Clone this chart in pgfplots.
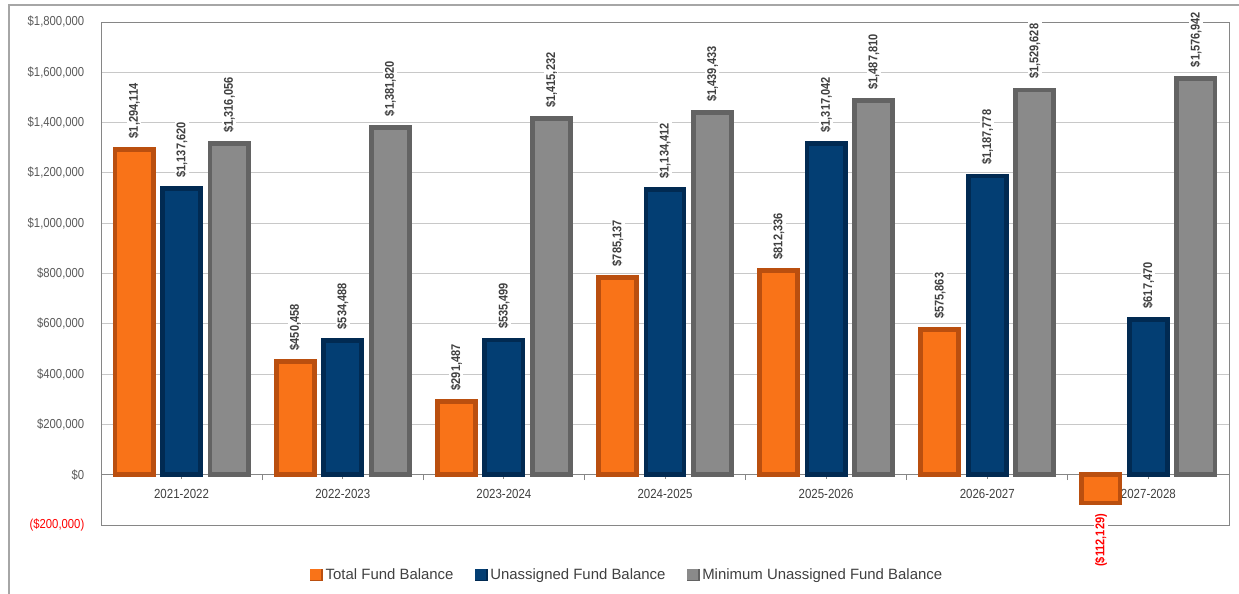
\documentclass[border=0pt]{standalone}
\usepackage{fontspec}
\setmainfont{Liberation Sans}
\newfontfamily\narrowfont[FakeStretch=0.87]{Liberation Sans}
\usepackage{pgfplots}
\usepackage{pgfplotstable}
\pgfplotsset{compat=1.18}

% bar colours: front face and bevel edge
\definecolor{orF}{HTML}{F97318}
\definecolor{orR}{HTML}{BA4F0F}
\definecolor{nvF}{HTML}{033E73}
\definecolor{nvR}{HTML}{012A52}
\definecolor{gyF}{HTML}{8A8A8A}
\definecolor{gyR}{HTML}{636363}
\definecolor{negred}{HTML}{FF0000}
\definecolor{tickcol}{HTML}{595959}
\definecolor{labcol}{HTML}{404040}
\definecolor{gridgrey}{HTML}{C8C8C8}
\definecolor{framegrey}{HTML}{868686}
\definecolor{outergrey}{HTML}{A6A6A6}

\setlength{\fboxsep}{1pt}

% currency format: $1,234,567 and ($1,234,567) in red for negatives
\newcommand\money[1]{{%
  \pgfkeys{/pgf/fpu=true,/pgf/fpu/output format=float}%
  \pgfmathparse{abs(#1)}\let\moneyabs\pgfmathresult
  \pgfmathparse{#1}%
  \pgfmathfloatifflags{\pgfmathresult}{-}%
    {\textcolor{negred}{(\$\pgfmathprintnumber[fixed,precision=0,1000 sep={,},assume math mode=true]{\moneyabs})}}%
    {\$\pgfmathprintnumber[fixed,precision=0,1000 sep={,},assume math mode=true]{\moneyabs}}%
}}

\pgfplotsset{
  bevel/.style 2 args={
    fill=#1, draw=#2, line width=3.6pt, line join=miter,
    legend image code/.code={
      \fill[#2] (0pt,-3pt) rectangle (6pt,3pt);
      \fill[#1] (0pt,-1.6pt) rectangle (4.6pt,3pt);
    },
  },
}

\pgfplotstableread{
x total unassigned minimum
0 1294114 1137620 1316056
1 450458 534488 1381820
2 291487 535499 1415232
3 785137 1134412 1439433
4 812336 1317042 1487810
5 575863 1187778 1529628
6 -112129 617470 1576942
}\balances

\begin{document}
\begin{tikzpicture}
\useasboundingbox (0,0) rectangle (929.25pt,-444.75pt);
\draw[outergrey, line width=1.1pt] (6.75pt,-470pt) -- (6.75pt,-3.75pt) -- (950pt,-3.75pt);
\begin{axis}[
  at={(75.75pt,-393.75pt)}, anchor=south west,
  scale only axis, width=846pt, height=377.25pt,
  clip=false,
  ybar=7.0pt, bar width=28.6pt,
  xmin=-0.5, xmax=6.5, ymin=-200000, ymax=1800000,
  axis x line*=middle, axis y line*=left,
  x axis line style={framegrey, line width=0.75pt},
  y axis line style={framegrey, line width=0.75pt},
  xtick={0,...,6},
  xticklabels={2021-2022,2022-2023,2023-2024,2024-2025,2025-2026,2026-2027,2027-2028},
  minor xtick={0.5,1.5,2.5,3.5,4.5,5.5},
  tick align=outside,
  major tick length=3pt, minor tick length=4pt,
  x tick style={framegrey, line width=0.6pt},
  xticklabel style={font=\narrowfont\fontsize{9.9}{11}\selectfont, text=labcol, yshift=-4.5pt},
  ytick={-200000,0,...,1800000},
  scaled y ticks=false,
  yticklabel={\money{\tick}},
  y tick style={draw=none},
  yticklabel style={font=\narrowfont\fontsize{9.75}{11}\selectfont, text=tickcol, xshift=-6pt},
  ymajorgrids=true,
  major grid style={gridgrey, line width=0.75pt},
  nodes near coords={\colorbox{white}{\rotatebox{90}{\money{\pgfplotspointmeta}}}},
  every node near coord/.append style={font=\narrowfont\bfseries\fontsize{9.5}{11}\selectfont,
    text=labcol, inner xsep=0pt, inner ysep=5.5pt},
  legend style={draw=none, fill=none, legend columns=-1,
    at={(0.4668,0)}, anchor=center, yshift=-37.5pt,
    font=\fontsize{11.2}{13}\selectfont, text=labcol,
    /tikz/every even column/.append style={column sep=14pt}},
  legend cell align=left,
]
\draw[framegrey, line width=0.75pt] (rel axis cs:0,0) rectangle (rel axis cs:1,1);
\addplot[bevel={orF}{orR}] table[x=x, y=total] {\balances};
\addlegendentry{Total Fund Balance}
\addplot[bevel={nvF}{nvR}] table[x=x, y=unassigned] {\balances};
\addlegendentry{Unassigned Fund Balance}
\addplot[bevel={gyF}{gyR}] table[x=x, y=minimum] {\balances};
\addlegendentry{Minimum Unassigned Fund Balance}
\end{axis}
\end{tikzpicture}
\end{document}
